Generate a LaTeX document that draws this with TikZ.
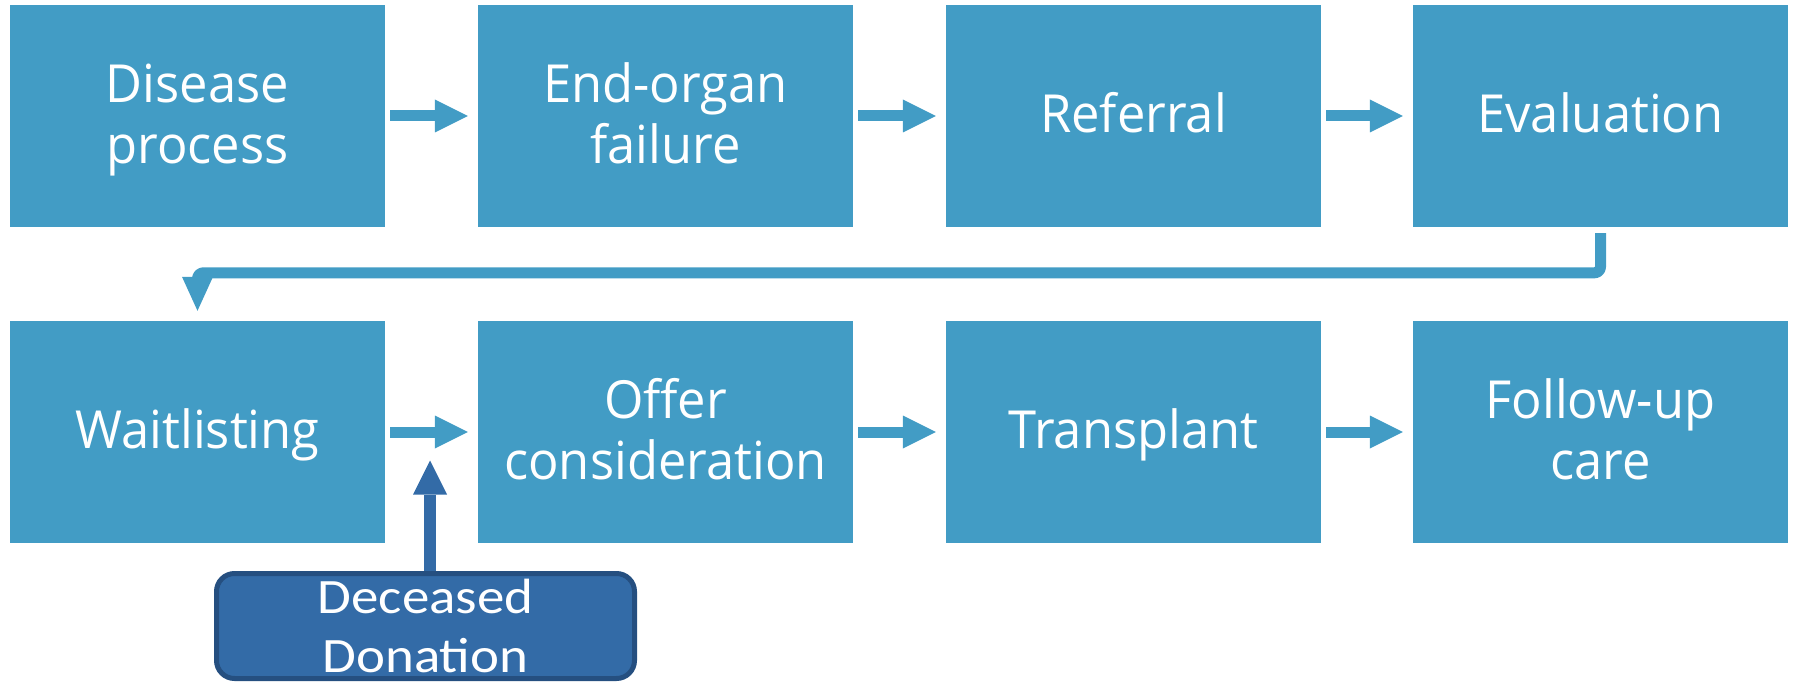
\documentclass[tikz,border=0pt]{standalone}
\usepackage{fontspec}
\setmainfont{Open Sans}[FakeStretch=0.965]
\newfontfamily\donorfont{Carlito}[FakeStretch=1.11]
\usetikzlibrary{arrows.meta}
\definecolor{stepblue}{HTML}{429CC5}
\definecolor{donorfill}{HTML}{336BA7}
\definecolor{donoredge}{HTML}{254F80}
% struts that centre the capitals of each text block
\newcommand\stagestrut{\vrule width 0pt height 47pt depth 14pt}
\newcommand\donorstrut{\vrule width 0pt height 39.5pt depth 6.5pt}
\begin{document}
\begin{tikzpicture}[x=1pt,y=-1pt,
  stage/.style={fill=stepblue, minimum width=375pt, minimum height=222pt,
    inner sep=0pt, text=white, align=center,
    font=\fontsize{52.5}{61}\selectfont,
    execute at end node=\stagestrut},
  donor/.style={fill=donorfill, draw=donoredge, line width=5pt,
    rounded corners=18pt, minimum width=418pt, minimum height=105pt,
    inner sep=0pt, text=white, align=center,
    font=\donorfont\fontsize{49.5}{59}\selectfont,
    execute at end node=\donorstrut},
  flow/.style={draw=stepblue, line width=11pt,
    -{Triangle[width=33pt,length=33pt,line width=0pt]}},
  wrap/.style={draw=stepblue, line width=11pt, line join=round,
    -{Triangle[width=31pt,length=34pt,line width=0pt]}},
  supply/.style={draw=donorfill, line width=12pt,
    -{Triangle[width=34pt,length=34pt,line width=0pt]}}]
\useasboundingbox (0,0) rectangle (1795,682);

% first row of stages
\node[stage] (disease) at (197.5,116) {\stagestrut Disease\\process};
\node[stage] (failure) at (665.5,116) {\stagestrut End-organ\\failure};
\node[stage] (referral) at (1133.5,116) {\stagestrut Referral};
\node[stage] (evaluation) at (1600.5,116) {\stagestrut Evaluation};

% second row of stages
\node[stage] (waitlist) at (197.5,432) {\stagestrut Waitlisting};
\node[stage] (offer) at (665.5,432) {\stagestrut Offer\\consideration};
\node[stage] (transplant) at (1133.5,432) {\stagestrut Transplant};
\node[stage] (followup) at (1600.5,432) {\stagestrut Follow-up\\care};

% donor source
\node[donor] (donation) at (425.5,626) {\donorstrut Deceased\\Donation};

% arrows between neighbouring stages
\foreach \a/\b in {disease/failure, failure/referral, referral/evaluation,
                   waitlist/offer, offer/transplant, transplant/followup}
  \draw[flow] ([xshift=5pt]\a.east) -- ([xshift=-10pt]\b.west);

% return path from the end of the first row to the start of the second
\draw[wrap] ([yshift=-6pt]evaluation.south) [rounded corners=6pt]
  |- ([yshift=48pt]waitlist.north) [sharp corners]
  -- ([yshift=10pt]waitlist.north);

% donor organs feed into offer consideration
\draw[supply] ([xshift=4.5pt]donation.north) -- ([xshift=4.5pt,yshift=110.5pt]donation.north);
\end{tikzpicture}
\end{document}
